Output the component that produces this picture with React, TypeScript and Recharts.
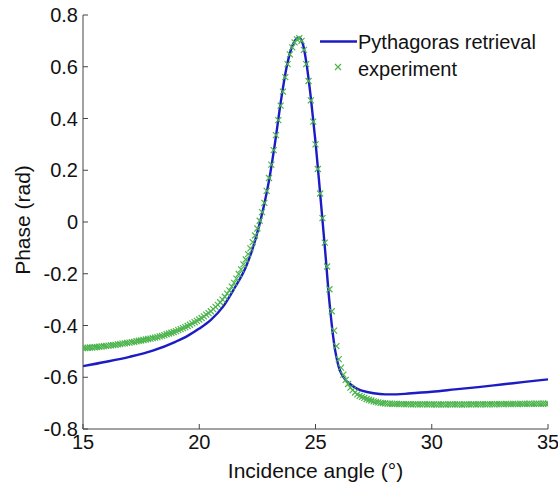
import { ComposedChart, Line, Scatter, XAxis, YAxis, Label } from "recharts";

// measured phase, sampled every 0.1 deg from 15 to 35
const experimentPhase = [
  -0.487, -0.487, -0.486, -0.485, -0.485, -0.484, -0.483, -0.482, -0.481, -0.48,
  -0.479, -0.478, -0.477, -0.476, -0.475, -0.473, -0.472, -0.47, -0.469, -0.467,
  -0.466, -0.464, -0.463, -0.461, -0.459, -0.458, -0.456, -0.454, -0.452, -0.451,
  -0.449, -0.447, -0.445, -0.442, -0.44, -0.437, -0.434, -0.431, -0.428, -0.425,
  -0.422, -0.418, -0.414, -0.41, -0.406, -0.402, -0.397, -0.392, -0.387, -0.382,
  -0.377, -0.371, -0.365, -0.358, -0.352, -0.345, -0.337, -0.328, -0.32, -0.31,
  -0.3, -0.289, -0.277, -0.264, -0.25, -0.235, -0.219, -0.201, -0.183, -0.164,
  -0.145, -0.124, -0.102, -0.078, -0.052, -0.025, 0.005, 0.038, 0.074, 0.12,
  0.17, 0.222, 0.278, 0.336, 0.394, 0.45, 0.504, 0.56, 0.61, 0.648,
  0.675, 0.694, 0.706, 0.71, 0.7, 0.665, 0.61, 0.545, 0.47, 0.388,
  0.3, 0.205, 0.11, 0.015, -0.08, -0.172, -0.26, -0.345, -0.42, -0.48,
  -0.53, -0.563, -0.59, -0.61, -0.626, -0.64, -0.65, -0.659, -0.666, -0.672,
  -0.676, -0.68, -0.684, -0.687, -0.69, -0.693, -0.695, -0.697, -0.699, -0.7,
  -0.701, -0.702, -0.702, -0.703, -0.703, -0.703, -0.704, -0.704, -0.704, -0.704,
  -0.704, -0.705, -0.705, -0.704, -0.705, -0.705, -0.705, -0.704, -0.705, -0.705,
  -0.705, -0.705, -0.706, -0.705, -0.705, -0.705, -0.706, -0.705, -0.705, -0.705,
  -0.705, -0.705, -0.705, -0.706, -0.705, -0.705, -0.705, -0.705, -0.704, -0.705,
  -0.705, -0.705, -0.704, -0.705, -0.705, -0.704, -0.704, -0.705, -0.704, -0.704,
  -0.704, -0.704, -0.703, -0.704, -0.704, -0.703, -0.703, -0.704, -0.703, -0.703,
  -0.703, -0.703, -0.702, -0.703, -0.703, -0.702, -0.702, -0.703, -0.702, -0.702,
  -0.702,
];
const experimentAngle = experimentPhase.map((_, i) => Number((15 + i / 10).toFixed(1)));

const retrievalAngle = [
  15, 16, 17, 18, 19, 19.5, 20, 20.5, 21, 21.5, 22, 22.25, 22.5, 22.75, 23, 23.25, 23.5,
  23.75, 24, 24.15, 24.3, 24.45, 24.6, 24.8, 25, 25.2, 25.4, 25.6, 25.8, 26, 26.2, 26.5,
  26.8, 27, 27.5, 28, 28.5, 29, 30, 31, 32, 33, 34, 35,
];
const retrievalPhase = [
  -0.557, -0.54, -0.521, -0.497, -0.462, -0.44, -0.412, -0.378, -0.33, -0.258, -0.175,
  -0.115, -0.04, 0.05, 0.16, 0.3, 0.46, 0.595, 0.68, 0.705, 0.712, 0.69, 0.62, 0.48, 0.31,
  0.11, -0.095, -0.31, -0.47, -0.56, -0.6, -0.627, -0.645, -0.652, -0.662, -0.666, -0.666,
  -0.663, -0.656, -0.647, -0.638, -0.628, -0.618, -0.608,
];

const xTicks = [15, 20, 25, 30, 35];
const yTicks = [-0.8, -0.6, -0.4, -0.2, 0, 0.2, 0.4, 0.6, 0.8];

const experiment = experimentAngle.map((a, i) => ({ angle: a, phase: experimentPhase[i] }));
const retrieval = retrievalAngle.map((a, i) => ({ angle: a, phase: retrievalPhase[i] }));

const FONT = "'Liberation Sans', Arial, sans-serif";
const AXIS = "#444";
const BLUE = "#1c1cc4";
const GREEN = "#4cb44c";
const TEXT = "#111";

const Cross = (props: any) => {
  const { cx, cy } = props;
  if (cx == null || cy == null) return null;
  const r = 3;
  return (
    <path
      d={`M${cx - r},${cy - r}L${cx + r},${cy + r}M${cx - r},${cy + r}L${cx + r},${cy - r}`}
      stroke={GREEN}
      strokeWidth={1.2}
      fill="none"
    />
  );
};

const fmtY = (v: number) => (v === 0 ? "0" : v.toFixed(1));
const tickStyle = { fill: TEXT, fontSize: 20, fontFamily: FONT };

export default function App() {
  return (
    <div style={{ position: "absolute", left: 0, top: 0, width: 558, height: 483, background: "#fff" }}>
      <ComposedChart width={558} height={483} margin={{ top: 15, right: 10, bottom: 0, left: 0 }}>
        <XAxis
          dataKey="angle"
          type="number"
          domain={[15, 35]}
          ticks={xTicks}
          allowDataOverflow
          height={54}
          stroke={AXIS}
          tickSize={-5}
          tickMargin={11}
          tick={tickStyle}
        >
          <Label
            value="Incidence angle (°)"
            position="insideBottom"
            offset={5}
            style={{ fill: TEXT, fontSize: 21, fontFamily: FONT }}
          />
        </XAxis>
        <XAxis
          xAxisId="top"
          orientation="top"
          dataKey="angle"
          type="number"
          domain={[15, 35]}
          ticks={xTicks}
          allowDataOverflow
          height={0}
          stroke={AXIS}
          tickSize={-5}
          tickFormatter={() => ""}
        />
        <YAxis
          type="number"
          domain={[-0.8, 0.8]}
          ticks={yTicks}
          allowDataOverflow
          width={83}
          stroke={AXIS}
          tickSize={-5}
          tickMargin={10}
          tickFormatter={fmtY}
          tick={tickStyle}
        >
          <Label
            content={() => (
              <text
                x={22}
                y={220}
                transform="rotate(-90, 22, 220)"
                textAnchor="middle"
                dominantBaseline="central"
                style={{ fill: TEXT, fontSize: 21, fontFamily: FONT }}
              >
                Phase (rad)
              </text>
            )}
          />
        </YAxis>
        <YAxis
          yAxisId="right"
          orientation="right"
          type="number"
          domain={[-0.8, 0.8]}
          ticks={yTicks}
          allowDataOverflow
          width={0}
          stroke={AXIS}
          tickSize={-5}
          tickFormatter={() => ""}
        />
        <Scatter
          data={experiment}
          dataKey="phase"
          shape={Cross}
          isAnimationActive={false}
        />
        <Line
          data={retrieval}
          dataKey="phase"
          type="monotone"
          stroke={BLUE}
          strokeWidth={2.4}
          dot={false}
          isAnimationActive={false}
        />
      </ComposedChart>
      <svg
        width={244}
        height={70}
        style={{ position: "absolute", left: 310, top: 20 }}
      >
        <line x1={10} y1={21.5} x2={47} y2={21.5} stroke={BLUE} strokeWidth={2.4} />
        <text x={48} y={22} dominantBaseline="central" style={{ fill: TEXT, fontSize: 20, fontFamily: FONT }}>
          Pythagoras retrieval
        </text>
        <Cross cx={28} cy={47} />
        <text x={48} y={49} dominantBaseline="central" style={{ fill: TEXT, fontSize: 20, fontFamily: FONT }}>
          experiment
        </text>
      </svg>
    </div>
  );
}
